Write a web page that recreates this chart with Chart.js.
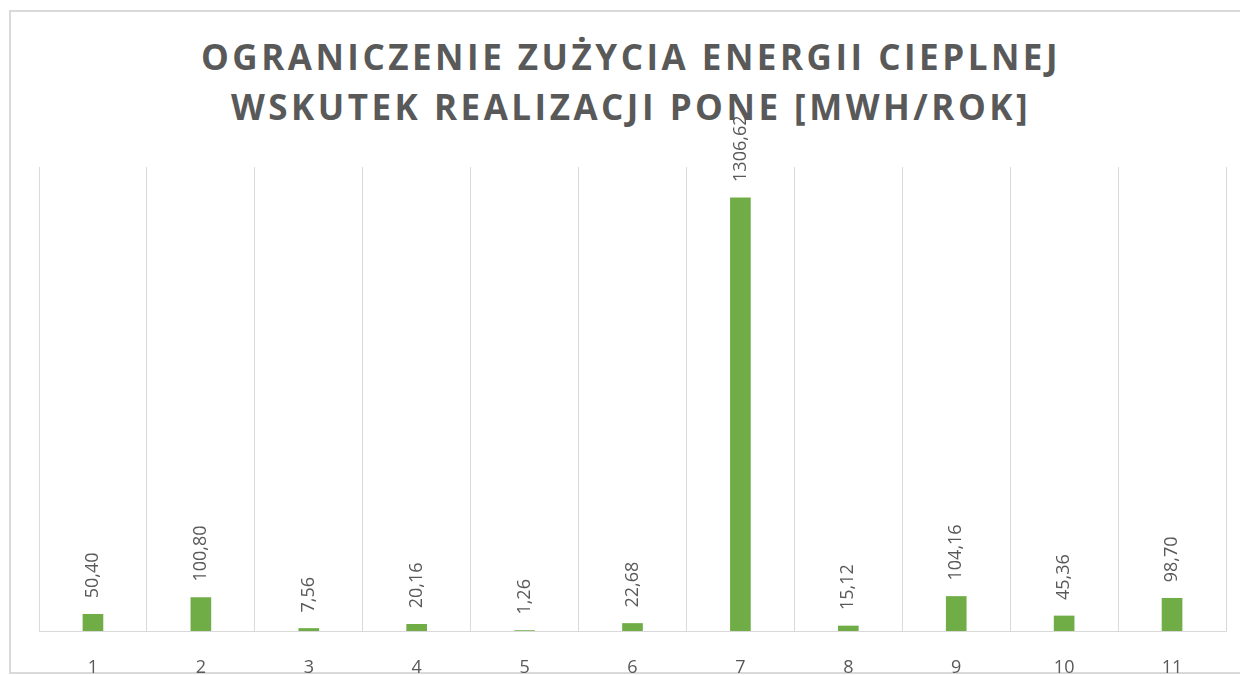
<!DOCTYPE html>
<html>
<head>
<meta charset="utf-8">
<script src="https://cdn.jsdelivr.net/npm/chart.js@4/dist/chart.umd.min.js"></script>
<style>
  html, body { margin: 0; padding: 0; background: #fff; overflow: hidden; }
  #wrap { position: relative; width: 1240px; height: 675px; }
  #frame {
    position: absolute; left: 9px; top: 10px; width: 1250px; height: 664px;
    border: 2px solid #d9d9d9; box-sizing: border-box; pointer-events: none;
  }
  #title {
    position: absolute; left: 0; top: 32px; width: 1262px; text-align: center;
    font-family: "Open Sans", sans-serif; font-weight: 700; font-size: 35px;
    letter-spacing: 3.5px; line-height: 50px; color: #595959;
  }
  canvas { position: absolute; left: 0; top: 0; }
</style>
</head>
<body>
<div id="wrap">
  <div id="frame"></div>
  <div id="title">OGRANICZENIE ZUŻYCIA ENERGII CIEPLNEJ<br>WSKUTEK REALIZACJI PONE [MWH/ROK]</div>
  <canvas id="chart" width="1240" height="675"></canvas>
</div>
<script>
// chart data
const categories = ["1", "2", "3", "4", "5", "6", "7", "8", "9", "10", "11"];
const savings = [50.40, 100.80, 7.56, 20.16, 1.26, 22.68, 1306.62, 15.12, 104.16, 45.36, 98.70];
const yMax = 1400;

const grey = '#595959';
const gridGrey = '#d9d9d9';

// value labels above bars, rotated like in the original
const barLabels = {
    id: 'barLabels',
    afterDatasetsDraw(chart) {
        const ctx = chart.ctx;
        const meta = chart.getDatasetMeta(0);
        ctx.save();
        ctx.font = '18px "Open Sans", sans-serif';
        ctx.fillStyle = grey;
        ctx.textAlign = 'left';
        ctx.textBaseline = 'middle';
        meta.data.forEach((bar, i) => {
            const txt = savings[i].toFixed(2).replace('.', ',');
            ctx.save();
            ctx.translate(bar.x, bar.y - 16);
            ctx.rotate(-Math.PI / 2);
            ctx.fillText(txt, 0, 0);
            ctx.restore();
        });
        ctx.restore();
    }
};

new Chart(document.getElementById('chart'), {
    type: 'bar',
    data: {
        labels: categories,
        datasets: [{
            data: savings,
            backgroundColor: '#70ad47',
            barThickness: 20
        }]
    },
    options: {
        responsive: false,
        animation: false,
        layout: { padding: { left: 39, right: 14, top: 167, bottom: 0 } },
        plugins: {
            legend: { display: false },
            tooltip: { enabled: false }
        },
        scales: {
            x: {
                grid: { offset: true, color: gridGrey, lineWidth: 1, drawTicks: false },
                border: { color: gridGrey, width: 1 },
                ticks: {
                    color: grey,
                    padding: 26,
                    font: { family: '"Open Sans", sans-serif', size: 18 }
                },
                afterFit(scale) { scale.height = 44; }
            },
            y: {
                display: false,
                min: 0,
                max: yMax
            }
        }
    },
    plugins: [barLabels]
});
</script>
</body>
</html>
